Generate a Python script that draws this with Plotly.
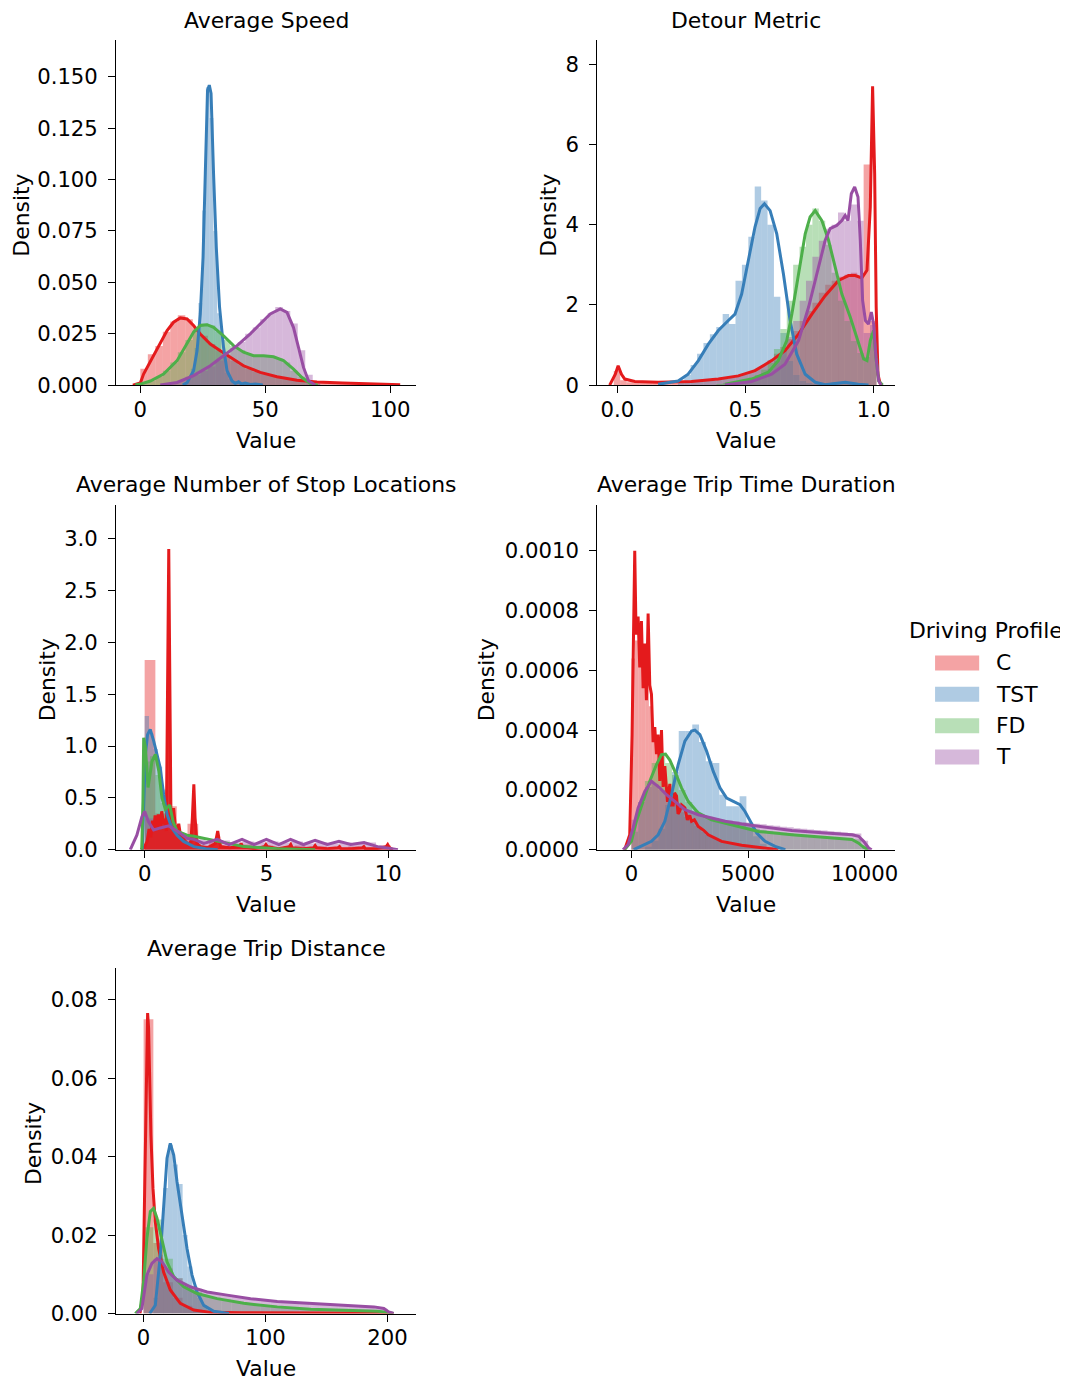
import plotly.graph_objects as go

# ---------------- categories / labels ----------------
PROFILES = ["C", "TST", "FD", "T"]
TITLES = ["Average Speed", "Detour Metric", "Average Number of Stop Locations",
          "Average Trip Time Duration", "Average Trip Distance"]
LEGEND_TITLE = "Driving Profile"
X_LABEL = "Value"
Y_LABEL = "Density"

# ---------------- tick labels ----------------
SPEED_XTICKS = [0, 50, 100]
SPEED_YTICKS = [0, 0.025, 0.05, 0.075, 0.1, 0.125, 0.15]
DETOUR_XTICKS = [0.0, 0.5, 1.0]
DETOUR_YTICKS = [0, 2, 4, 6, 8]
STOPS_XTICKS = [0, 5, 10]
STOPS_YTICKS = [0.0, 0.5, 1.0, 1.5, 2.0, 2.5, 3.0]
TIME_XTICKS = [0, 5000, 10000]
TIME_YTICKS = [0.0, 0.0002, 0.0004, 0.0006, 0.0008, 0.0010]
DIST_XTICKS = [0, 100, 200]
DIST_YTICKS = [0.0, 0.02, 0.04, 0.06, 0.08]

# ================= Average Speed =================
SPEED_C_KDE_X = [-3, 0, 1.3, 3.3, 5.3, 8, 10.7, 13.3, 16, 18.7, 21.3, 24, 28, 32, 36, 41.3, 48, 54.7, 62.7, 70.7, 81, 94.7, 104]
SPEED_C_KDE_Y = [0, 0.001, 0.0054, 0.010, 0.0143, 0.0208, 0.0265, 0.0306, 0.0327, 0.0322, 0.029, 0.0249, 0.020, 0.0167, 0.0135, 0.0094, 0.0062, 0.0041, 0.0024, 0.0015, 0.001, 0.0005, 0.0002]
SPEED_TST_KDE_X = [17, 18.7, 21.3, 22.7, 24, 25.1, 26, 26.9, 27.6, 28.3, 29.3, 30.4, 31.7, 33.3, 34.7, 36.7, 38, 39.3, 40.5, 42, 44, 46, 49]
SPEED_TST_KDE_Y = [0, 0.0012, 0.007, 0.0167, 0.0346, 0.0622, 0.103, 0.1435, 0.146, 0.142, 0.103, 0.067, 0.0379, 0.0184, 0.007, 0.002, 0.0008, 0.0016, 0.0005, 0.001, 0.0003, 0.0005, 0]
SPEED_FD_KDE_X = [-2, 0, 4, 9.3, 14.7, 18.7, 21.3, 24, 26.7, 29.3, 33.3, 37.3, 41.3, 45.3, 49.3, 53.3, 57.3, 61.3, 64.7, 68, 71]
SPEED_FD_KDE_Y = [0, 0.0005, 0.002, 0.0054, 0.0119, 0.020, 0.0257, 0.029, 0.0294, 0.0281, 0.024, 0.0192, 0.016, 0.0143, 0.0143, 0.0138, 0.0119, 0.0078, 0.0037, 0.0008, 0]
SPEED_T_KDE_X = [8, 14.7, 21.3, 28, 33.3, 38.7, 44, 48, 52, 56, 58.7, 61.3, 63.3, 65.3, 67.3, 70]
SPEED_T_KDE_Y = [0, 0.0013, 0.0046, 0.0094, 0.0143, 0.0192, 0.0249, 0.0297, 0.0346, 0.0371, 0.0354, 0.028, 0.0184, 0.0086, 0.0021, 0]

SPEED_C_BINS = (0, 3)
SPEED_C_HIST = [0.008, 0.015, 0.019, 0.026, 0.031, 0.034, 0.032, 0.028, 0.024, 0.020, 0.017, 0.014, 0.012, 0.010, 0.008, 0.0065, 0.0055, 0.0045, 0.0035, 0.003, 0.0024, 0.0019, 0.0015, 0.0012, 0.001, 0.0008, 0.0007, 0.0006, 0.0005, 0.0004, 0.0004, 0.0003, 0.0003, 0.0002, 0.0001]
SPEED_TST_BINS = (17.25, 1.5)
SPEED_TST_HIST = [0.001, 0.003, 0.008, 0.018, 0.04, 0.085, 0.145, 0.13, 0.075, 0.035, 0.015, 0.006, 0.003, 0.002, 0.0015, 0.001, 0.0005, 0.0003]
SPEED_FD_BINS = (0, 3)
SPEED_FD_HIST = [0.001, 0.002, 0.004, 0.007, 0.011, 0.016, 0.022, 0.027, 0.030, 0.029, 0.026, 0.022, 0.019, 0.017, 0.015, 0.014, 0.014, 0.014, 0.013, 0.011, 0.007, 0.004, 0.0015, 0.0005]
SPEED_T_BINS = (9, 3)
SPEED_T_HIST = [0.001, 0.0015, 0.002, 0.004, 0.005, 0.007, 0.009, 0.012, 0.015, 0.018, 0.021, 0.025, 0.028, 0.032, 0.035, 0.038, 0.036, 0.030, 0.017, 0.005, 0.001]

# ================= Detour Metric =================
DETOUR_C_KDE_X = [-0.03, -0.008, 0.003, 0.016, 0.029, 0.068, 0.159, 0.289, 0.394, 0.472, 0.537, 0.602, 0.654, 0.707, 0.759, 0.811, 0.863, 0.902, 0.928, 0.954, 0.974, 0.987, 0.996, 1.004, 1.01, 1.017, 1.026]
DETOUR_C_KDE_Y = [0, 0.27, 0.48, 0.27, 0.15, 0.09, 0.07, 0.09, 0.15, 0.23, 0.36, 0.61, 0.86, 1.27, 1.77, 2.23, 2.61, 2.73, 2.73, 2.67, 2.86, 4.44, 7.45, 5.27, 1.94, 0.27, 0.02]
DETOUR_TST_KDE_X = [0.159, 0.237, 0.276, 0.316, 0.355, 0.394, 0.433, 0.459, 0.485, 0.511, 0.537, 0.557, 0.574, 0.596, 0.622, 0.648, 0.674, 0.70, 0.733, 0.772, 0.811, 0.85, 0.889, 0.94, 0.98]
DETOUR_TST_KDE_Y = [0.02, 0.1, 0.27, 0.61, 1.02, 1.36, 1.61, 1.77, 2.27, 3.11, 3.94, 4.40, 4.52, 4.35, 3.77, 2.77, 1.61, 0.77, 0.27, 0.07, 0.01, 0.04, 0.07, 0.02, 0]
DETOUR_FD_KDE_X = [0.42, 0.524, 0.589, 0.628, 0.661, 0.681, 0.707, 0.733, 0.752, 0.772, 0.798, 0.824, 0.85, 0.876, 0.909, 0.941, 0.961, 0.974, 0.987, 1.0, 1.009, 1.02, 1.035]
DETOUR_FD_KDE_Y = [0.02, 0.15, 0.32, 0.61, 1.11, 1.77, 2.77, 3.77, 4.19, 4.35, 4.10, 3.61, 2.94, 2.27, 1.69, 1.02, 0.65, 0.61, 1.11, 1.36, 0.69, 0.1, 0]
DETOUR_T_KDE_X = [0.42, 0.524, 0.602, 0.654, 0.707, 0.746, 0.785, 0.811, 0.83, 0.856, 0.876, 0.889, 0.9, 0.913, 0.926, 0.939, 0.948, 0.957, 0.968, 0.98, 0.991, 1.0, 1.009, 1.02, 1.03]
DETOUR_T_KDE_Y = [0.0, 0.09, 0.27, 0.52, 1.11, 1.94, 2.94, 3.61, 3.90, 3.98, 4.10, 4.23, 4.10, 4.77, 4.94, 4.69, 3.61, 2.11, 1.61, 1.52, 1.82, 1.52, 0.69, 0.1, 0]

DETOUR_C_BINS = (-0.014, 0.025)
DETOUR_C_HIST = [0.35, 0.12, 0.07, 0.06, 0.05, 0.06, 0.05, 0.06, 0.07, 0.06, 0.07, 0.08, 0.08, 0.09, 0.1, 0.11, 0.13, 0.15, 0.18, 0.22, 0.27, 0.33, 0.4, 0.5, 0.62, 0.78, 0.95, 1.15, 1.35, 1.6, 1.85, 2.05, 2.3, 2.5, 2.6, 2.7, 2.75, 2.8, 2.7, 5.5, 1.6]
DETOUR_TST_BINS = (0.236, 0.025)
DETOUR_TST_HIST = [0.1, 0.25, 0.5, 0.78, 1.05, 1.27, 1.45, 1.77, 1.52, 2.6, 3.0, 3.7, 4.95, 4.6, 4.0, 2.2, 1.3, 0.6, 0.25, 0.1, 0.05, 0.03, 0.03, 0.05, 0.08, 0.05, 0.03]
DETOUR_FD_BINS = (0.386, 0.025)
DETOUR_FD_HIST = [0.03, 0.05, 0.07, 0.1, 0.13, 0.18, 0.25, 0.38, 0.55, 0.9, 1.4, 2.1, 3.0, 3.45, 4.0, 4.4, 4.1, 3.5, 2.8, 2.1, 1.6, 1.1, 0.8, 0.7, 1.3]
DETOUR_T_BINS = (0.461, 0.025)
DETOUR_T_HIST = [0.05, 0.1, 0.15, 0.2, 0.3, 0.4, 0.6, 0.85, 1.2, 1.6, 2.1, 2.6, 3.2, 3.6, 3.9, 4.0, 4.3, 4.1, 4.5, 4.1, 1.3, 1.5]

# ================= Average Number of Stop Locations =================
STOPS_C_KDE_X = [-0.15, 0.0, 0.1, 0.18, 0.25, 0.32, 0.37, 0.43, 0.5, 0.56, 0.64, 0.7, 0.78, 0.84, 0.89, 0.95, 0.99, 1.03, 1.08, 1.13, 1.19, 1.26, 1.33, 1.4, 1.47, 1.55, 1.67, 1.8, 1.9, 1.96, 2.02, 2.07, 2.15, 2.3, 2.6, 2.9, 2.95, 3.0, 3.05, 3.12, 3.5, 3.9, 3.96, 4.02, 4.5, 4.92, 4.98, 5.04, 5.5, 5.94, 6.0, 6.06, 6.5, 6.94, 7.0, 7.06, 7.5, 7.94, 8.0, 8.06, 8.5, 8.94, 9.0, 9.06, 9.5, 9.92, 9.98, 10.05, 10.2]
STOPS_C_KDE_Y = [0, 0.03, 0.08, 0.2, 0.12, 0.28, 0.18, 0.33, 0.2, 0.34, 0.22, 0.37, 0.25, 0.3, 0.18, 1.75, 2.9, 1.75, 0.31, 0.25, 0.4, 0.22, 0.18, 0.25, 0.14, 0.12, 0.08, 0.05, 0.08, 0.31, 0.63, 0.31, 0.06, 0.03, 0.02, 0.06, 0.11, 0.18, 0.11, 0.03, 0.02, 0.03, 0.06, 0.03, 0.01, 0.03, 0.05, 0.03, 0.01, 0.03, 0.05, 0.02, 0.01, 0.02, 0.04, 0.02, 0.01, 0.02, 0.03, 0.01, 0.01, 0.02, 0.03, 0.01, 0.01, 0.03, 0.05, 0.02, 0]
STOPS_TST_KDE_X = [-0.1, -0.04, 0.03, 0.12, 0.23, 0.37, 0.51, 0.64, 0.78, 0.92, 1.12, 1.33, 1.6, 2.02, 2.5, 3.0]
STOPS_TST_KDE_Y = [0, 0.47, 0.92, 1.11, 1.16, 1.05, 0.92, 0.79, 0.53, 0.34, 0.21, 0.14, 0.08, 0.03, 0.01, 0]
STOPS_FD_KDE_X = [-0.12, -0.07, -0.04, 0.03, 0.14, 0.3, 0.44, 0.58, 0.71, 0.85, 1.03, 1.17, 1.33, 1.74, 2.02, 2.98, 4.07, 5.45, 7]
STOPS_FD_KDE_Y = [0, 0.47, 1.08, 0.99, 0.6, 0.85, 0.92, 0.76, 0.5, 0.39, 0.43, 0.27, 0.18, 0.14, 0.13, 0.08, 0.03, 0.01, 0]
STOPS_T_KDE_X = [-0.59, -0.32, -0.11, 0.0, 0.16, 0.37, 0.64, 0.99, 1.33, 1.74, 2.02, 2.43, 2.98, 3.46, 4.0, 4.49, 5.0, 5.51, 5.99, 6.52, 7.0, 7.5, 7.98, 8.46, 9.01, 9.56, 9.97, 10.4]
STOPS_T_KDE_Y = [0, 0.14, 0.32, 0.37, 0.27, 0.19, 0.21, 0.23, 0.18, 0.11, 0.10, 0.06, 0.10, 0.05, 0.10, 0.05, 0.10, 0.05, 0.10, 0.05, 0.09, 0.05, 0.08, 0.05, 0.07, 0.03, 0.016, 0]

STOPS_C_BINS = (0, 0.44)
STOPS_C_HIST = [1.83, 0.35, 0.42, 0.15, 0.25, 0.04, 0.1, 0.03, 0.02, 0.05, 0.02, 0.04, 0.02, 0.02, 0.04, 0.02, 0.03, 0.02, 0.02, 0.03, 0.02, 0.02, 0.04]
STOPS_TST_BINS = (0, 0.18)
STOPS_TST_HIST = [1.29, 1.12, 0.97, 0.8, 0.58, 0.36, 0.22, 0.15, 0.1, 0.06, 0.04, 0.03, 0.02]
STOPS_FD_BINS = (0, 0.22)
STOPS_FD_HIST = [0.85, 0.9, 0.72, 0.45, 0.38, 0.22, 0.14, 0.1, 0.08, 0.06, 0.05, 0.03, 0.02, 0.02]
STOPS_T_BINS = (0, 0.5)
STOPS_T_HIST = [0.3, 0.2, 0.17, 0.12, 0.1, 0.08, 0.09, 0.07, 0.08, 0.07, 0.08, 0.07, 0.08, 0.06, 0.07, 0.06, 0.07, 0.06, 0.07, 0.04]

# ================= Average Trip Time Duration =================
TIME_C_KDE_X = [-290, -72, 29, 86, 143, 200, 287, 358, 430, 502, 573, 645, 717, 788, 860, 931, 1003, 1075, 1146, 1218, 1290, 1361, 1433, 1548, 1600, 1648, 1700, 1791, 1850, 1935, 2000, 2078, 2150, 2293, 2400, 2500, 2579, 2700, 2866, 3000, 3100, 3296, 3869, 4729, 5732, 6300]
TIME_C_KDE_Y = [0, 0.00005, 0.000385, 0.00064, 0.0010, 0.00072, 0.00078, 0.00061, 0.000765, 0.00054, 0.00069, 0.00050, 0.00079, 0.00055, 0.00052, 0.00036, 0.00041, 0.00032, 0.000385, 0.00023, 0.00040, 0.00021, 0.00028, 0.00016, 0.00020, 0.00022, 0.00015, 0.00015, 0.00019, 0.00018, 0.00012, 0.00013, 0.00015, 0.00014, 0.00010, 0.000115, 0.000095, 0.00010, 0.000078, 0.00007, 0.000065, 0.00005, 0.000028, 0.000015, 0.000006, 0]
TIME_TST_KDE_X = [100, 430, 860, 1146, 1433, 1720, 2006, 2293, 2579, 2723, 2938, 3224, 3511, 3798, 4084, 4371, 4657, 4872, 5087, 5374, 5732, 6162, 6600]
TIME_TST_KDE_Y = [0, 0.000011, 0.000028, 0.00005, 0.000095, 0.000184, 0.000285, 0.000363, 0.000397, 0.0004, 0.000385, 0.00033, 0.000262, 0.000207, 0.000173, 0.000162, 0.000151, 0.000128, 0.000095, 0.000056, 0.000028, 0.000011, 0]
TIME_FD_KDE_X = [-290, 0, 215, 502, 788, 1075, 1290, 1462, 1648, 1863, 2150, 2436, 2866, 3439, 4013, 4729, 5446, 6879, 8312, 9458, 9744, 9959, 10174]
TIME_FD_KDE_Y = [0, 0.000028, 0.000095, 0.000162, 0.000229, 0.000285, 0.000318, 0.00032, 0.0003, 0.000262, 0.000207, 0.000162, 0.000123, 0.0001, 0.000089, 0.000073, 0.000061, 0.00005, 0.000041, 0.000034, 0.000022, 0.000008, 0]
TIME_T_KDE_X = [-360, -143, 72, 287, 573, 860, 1003, 1218, 1505, 1863, 2293, 2866, 3439, 4013, 4729, 5446, 6879, 8312, 9458, 9744, 9959, 10174, 10300]
TIME_T_KDE_Y = [0, 0.000017, 0.000073, 0.00014, 0.000195, 0.000229, 0.00022, 0.000207, 0.000184, 0.000162, 0.000134, 0.000117, 0.000106, 0.000095, 0.000086, 0.000078, 0.000064, 0.000056, 0.00005, 0.000045, 0.000028, 0.000006, 0]

TIME_C_BINS = (0, 150)
TIME_C_HIST = [0.00064, 0.0007, 0.00065, 0.0006, 0.00058, 0.00048, 0.00038, 0.00033, 0.00028, 0.00025, 0.00021, 0.00018, 0.00016, 0.00014, 0.000125, 0.00011, 0.0001, 0.00009, 0.00008, 0.00007, 0.00006, 0.00005, 0.000045, 0.00004, 0.000035, 0.00003, 0.000026, 0.000022, 0.00002, 0.000017, 0.000015, 0.000012, 0.00001, 0.000008, 0.000007, 0.000006, 0.000005, 0.000004]
TIME_TST_BINS = (580, 290)
TIME_TST_HIST = [0.00001, 0.00003, 0.00007, 0.00015, 0.00026, 0.000397, 0.000397, 0.000419, 0.00036, 0.000296, 0.00029, 0.000184, 0.000145, 0.000145, 0.000179, 0.00009, 0.000045, 0.00002, 0.000008]
TIME_FD_BINS = (0, 290)
TIME_FD_HIST = [0.00006, 0.00016, 0.00023, 0.00029, 0.00032, 0.00029, 0.00025, 0.0002, 0.00016, 0.00013, 0.000115, 0.000105, 0.0001, 0.000095, 0.00009, 0.000085, 0.00008, 0.000075, 0.00007, 0.000065, 0.000062, 0.00006, 0.000057, 0.000055, 0.000052, 0.00005, 0.000048, 0.000046, 0.000044, 0.000042, 0.00004, 0.000038, 0.000036, 0.000035, 0.000015]
TIME_T_BINS = (0, 290)
TIME_T_HIST = [0.0001, 0.00016, 0.00021, 0.00022, 0.0002, 0.00018, 0.00016, 0.00014, 0.00013, 0.00012, 0.000115, 0.00011, 0.000105, 0.0001, 0.000098, 0.000095, 0.000092, 0.00009, 0.000087, 0.000085, 0.000082, 0.00008, 0.000077, 0.000075, 0.000072, 0.00007, 0.000068, 0.000066, 0.000064, 0.000062, 0.00006, 0.000058, 0.000056, 0.000054, 0.00003]

# ================= Average Trip Distance =================
DIST_C_KDE_X = [-3, -0.5, 0.8, 1.9, 2.7, 3.3, 4.1, 4.9, 6.0, 7.7, 9.6, 12.3, 16.4, 21.9, 30.1, 41.1, 54.8, 80, 120, 160, 200, 205]
DIST_C_KDE_Y = [0, 0.0047, 0.030, 0.0557, 0.0728, 0.0766, 0.0728, 0.060, 0.0455, 0.0319, 0.0234, 0.0166, 0.0106, 0.006, 0.0026, 0.0009, 0.0003, 0.0002, 0.0002, 0.0001, 0.0001, 0]
DIST_TST_KDE_X = [5, 9.6, 13.7, 16.4, 19.2, 21.9, 24.7, 27.4, 31.5, 35.6, 39.7, 43.8, 49.3, 57.5, 70]
DIST_TST_KDE_Y = [0, 0.0021, 0.0149, 0.0285, 0.0396, 0.0434, 0.0404, 0.0336, 0.0251, 0.0166, 0.0098, 0.0055, 0.0021, 0.0006, 0]
DIST_FD_KDE_X = [-6.8, -2.7, 0, 2.7, 5.5, 8.2, 11, 15.1, 19.2, 24.7, 32.9, 43.8, 60.3, 82.2, 109.6, 137, 164, 192, 200, 205]
DIST_FD_KDE_Y = [0, 0.0013, 0.0081, 0.0191, 0.026, 0.0268, 0.0243, 0.0183, 0.0132, 0.0094, 0.0068, 0.0051, 0.0038, 0.0026, 0.0017, 0.0011, 0.0008, 0.0006, 0.0003, 0]
DIST_T_KDE_X = [-5.5, -1.4, 2.7, 6.8, 11, 15.1, 20.5, 27.4, 38.4, 52.1, 68.5, 87.7, 109.6, 137, 164, 189, 197, 201, 205]
DIST_T_KDE_Y = [0, 0.0013, 0.0098, 0.0128, 0.014, 0.0132, 0.0106, 0.0085, 0.0068, 0.0055, 0.0047, 0.0038, 0.0031, 0.0026, 0.0021, 0.0017, 0.0013, 0.0004, 0]

DIST_C_BINS = (0, 8)
DIST_C_HIST = [0.075, 0.018, 0.008, 0.004, 0.002, 0.001, 0.0006, 0.0004, 0.0003, 0.0003, 0.0002, 0.0002, 0.0002, 0.0002, 0.0001, 0.0001, 0.0001, 0.0001, 0.0001, 0.0001, 0.0001, 0.0001, 0.0001, 0.0001, 0.0001]
DIST_TST_BINS = (8, 4)
DIST_TST_HIST = [0.004, 0.015, 0.032, 0.043, 0.038, 0.033, 0.02, 0.012, 0.007, 0.004, 0.002, 0.001, 0.0005]
DIST_FD_BINS = (0, 8)
DIST_FD_HIST = [0.022, 0.024, 0.014, 0.009, 0.007, 0.0055, 0.0045, 0.004, 0.0035, 0.003, 0.0027, 0.0024, 0.0021, 0.0019, 0.0017, 0.0015, 0.0013, 0.0012, 0.0011, 0.001, 0.0009, 0.0008, 0.0007, 0.0007, 0.0006]
DIST_T_BINS = (0, 8)
DIST_T_HIST = [0.01, 0.014, 0.0115, 0.009, 0.0072, 0.0063, 0.0056, 0.005, 0.0047, 0.0043, 0.004, 0.0037, 0.0033, 0.0031, 0.0029, 0.0027, 0.0026, 0.0024, 0.0023, 0.0021, 0.002, 0.0019, 0.0018, 0.0017, 0.0012]

# ---------------- assemble ----------------
SERIES = {
    "speed": {"C": (SPEED_C_KDE_X, SPEED_C_KDE_Y, SPEED_C_BINS, SPEED_C_HIST),
              "TST": (SPEED_TST_KDE_X, SPEED_TST_KDE_Y, SPEED_TST_BINS, SPEED_TST_HIST),
              "FD": (SPEED_FD_KDE_X, SPEED_FD_KDE_Y, SPEED_FD_BINS, SPEED_FD_HIST),
              "T": (SPEED_T_KDE_X, SPEED_T_KDE_Y, SPEED_T_BINS, SPEED_T_HIST)},
    "detour": {"C": (DETOUR_C_KDE_X, DETOUR_C_KDE_Y, DETOUR_C_BINS, DETOUR_C_HIST),
               "TST": (DETOUR_TST_KDE_X, DETOUR_TST_KDE_Y, DETOUR_TST_BINS, DETOUR_TST_HIST),
               "FD": (DETOUR_FD_KDE_X, DETOUR_FD_KDE_Y, DETOUR_FD_BINS, DETOUR_FD_HIST),
               "T": (DETOUR_T_KDE_X, DETOUR_T_KDE_Y, DETOUR_T_BINS, DETOUR_T_HIST)},
    "stops": {"C": (STOPS_C_KDE_X, STOPS_C_KDE_Y, STOPS_C_BINS, STOPS_C_HIST),
              "TST": (STOPS_TST_KDE_X, STOPS_TST_KDE_Y, STOPS_TST_BINS, STOPS_TST_HIST),
              "FD": (STOPS_FD_KDE_X, STOPS_FD_KDE_Y, STOPS_FD_BINS, STOPS_FD_HIST),
              "T": (STOPS_T_KDE_X, STOPS_T_KDE_Y, STOPS_T_BINS, STOPS_T_HIST)},
    "time": {"C": (TIME_C_KDE_X, TIME_C_KDE_Y, TIME_C_BINS, TIME_C_HIST),
             "TST": (TIME_TST_KDE_X, TIME_TST_KDE_Y, TIME_TST_BINS, TIME_TST_HIST),
             "FD": (TIME_FD_KDE_X, TIME_FD_KDE_Y, TIME_FD_BINS, TIME_FD_HIST),
             "T": (TIME_T_KDE_X, TIME_T_KDE_Y, TIME_T_BINS, TIME_T_HIST)},
    "dist": {"C": (DIST_C_KDE_X, DIST_C_KDE_Y, DIST_C_BINS, DIST_C_HIST),
             "TST": (DIST_TST_KDE_X, DIST_TST_KDE_Y, DIST_TST_BINS, DIST_TST_HIST),
             "FD": (DIST_FD_KDE_X, DIST_FD_KDE_Y, DIST_FD_BINS, DIST_FD_HIST),
             "T": (DIST_T_KDE_X, DIST_T_KDE_Y, DIST_T_BINS, DIST_T_HIST)},
}

COLORS = {"C": (228, 26, 28), "TST": (55, 126, 184), "FD": (77, 175, 74), "T": (152, 78, 163)}
OFF = 8                         # page body margin in the browser
SX, SY = 0.995, 0.990           # observed page->picture scale
W = int(round(1068 / SX)) - OFF
H = int(round(1380 / SY)) - OFF
FONT = "DejaVu Sans"
FS = 21.9        # titles / labels
FS_TICK = 21.2   # tick labels

# panel geometry in target pixels: (left, right, top, bottom), axis ranges, tick formats, ylabel x
PANELS = [
    ("speed", (116, 415, 40, 384.5), (-9.63, 110.3), (0, 0.1679), SPEED_XTICKS, SPEED_YTICKS, "d", ".3f", 22),
    ("detour", (596, 893.3, 40, 384.5), (-0.0782, 1.0845), (0, 8.6), DETOUR_XTICKS, DETOUR_YTICKS, ".1f", "d", 547),
    ("stops", (116, 415, 504, 848.5), (-1.165, 11.14), (0, 3.326), STOPS_XTICKS, STOPS_YTICKS, "d", ".1f", 47),
    ("time", (596, 893.3, 504, 848.5), (-1461, 11315), (0, 0.001154), TIME_XTICKS, TIME_YTICKS, "d", ".4f", 485),
    ("dist", (116, 415, 967, 1311.7), (-22.4, 223.3), (0, 0.08799), DIST_XTICKS, DIST_YTICKS, "d", ".2f", 34),
]


def rgba(c, a):
    return "rgba(%d,%d,%d,%s)" % (c[0], c[1], c[2], a)


def px_x(p):
    return (p / SX - OFF) / W


def px_y(p):
    return 1 - (p / SY - OFF) / H


fig = go.Figure()
annotations = []
layout_axes = {}

for i, (key, (l, r, t, b), xr, yr, xt, yt, xf, yf, dens_x) in enumerate(PANELS):
    n = "" if i == 0 else str(i + 1)
    xa, ya = "x" + n, "y" + n
    for prof in PROFILES:
        kx, ky, (b0, bw), hh = SERIES[key][prof]
        centers = [b0 + bw * (j + 0.5) for j in range(len(hh))]
        fig.add_trace(go.Bar(x=centers, y=hh, width=bw, xaxis=xa, yaxis=ya,
                             marker=dict(color=rgba(COLORS[prof], 0.4), line=dict(width=0)),
                             showlegend=False, hoverinfo="skip"))
    for prof in PROFILES:
        kx, ky, _, _ = SERIES[key][prof]
        extra = {}
        if key == "stops" and prof == "C":
            extra = dict(fill="tozeroy", fillcolor=rgba(COLORS[prof], 0.9))
        fig.add_trace(go.Scatter(x=kx, y=ky, mode="lines", xaxis=xa, yaxis=ya,
                                 line=dict(color=rgba(COLORS[prof], 1), width=3),
                                 showlegend=False, hoverinfo="skip", **extra))
    common = dict(showline=True, linecolor="black", linewidth=1.4, ticks="outside",
                  ticklen=7, tickwidth=1.4, tickcolor="black", showgrid=False,
                  zeroline=False, tickfont=dict(family=FONT, size=FS_TICK, color="black"))
    layout_axes["xaxis" + n] = dict(domain=[px_x(l), px_x(r)], range=list(xr), tickvals=xt,
                                    tickformat=xf, anchor=ya, ticklabelstandoff=-2, **common)
    layout_axes["yaxis" + n] = dict(domain=[px_y(b), px_y(t)], range=list(yr), tickvals=yt,
                                    tickformat=yf, anchor=xa, ticklabelstandoff=6, **common)
    cx = (l + r) / 2
    annotations.append(dict(text=TITLES[i], x=px_x(cx), y=px_y(t - 20), xref="paper", yref="paper",
                            xanchor="center", yanchor="middle", showarrow=False,
                            font=dict(family=FONT, size=FS, color="black")))
    annotations.append(dict(text=X_LABEL, x=px_x(cx), y=px_y(b + 55), xref="paper", yref="paper",
                            xanchor="center", yanchor="middle", showarrow=False,
                            font=dict(family=FONT, size=FS, color="black")))
    annotations.append(dict(text=Y_LABEL, x=px_x(dens_x), y=px_y((t + b) / 2 + 3), xref="paper", yref="paper",
                            xanchor="center", yanchor="middle", textangle=-90, showarrow=False,
                            font=dict(family=FONT, size=FS, color="black")))

# legend (manual, matching seaborn FacetGrid legend)
shapes = []
annotations.append(dict(text=LEGEND_TITLE, x=px_x(984), y=px_y(630), xref="paper", yref="paper",
                        xanchor="center", yanchor="middle", showarrow=False,
                        font=dict(family=FONT, size=FS, color="black")))
for k, prof in enumerate(PROFILES):
    yc = 662 + 31.3 * k
    shapes.append(dict(type="rect", xref="paper", yref="paper",
                       x0=px_x(933), x1=px_x(977), y0=px_y(yc - 7.5), y1=px_y(yc + 7.5),
                       fillcolor=rgba(COLORS[prof], 0.4), line=dict(width=0)))
    annotations.append(dict(text=prof, x=px_x(992), y=px_y(yc), xref="paper", yref="paper",
                            xanchor="left", yanchor="middle", showarrow=False,
                            font=dict(family=FONT, size=FS, color="black")))

fig.update_layout(width=W, height=H, margin=dict(l=0, r=0, t=0, b=0),
                  paper_bgcolor="white", plot_bgcolor="white", barmode="overlay",
                  showlegend=False, annotations=annotations, shapes=shapes,
                  font=dict(family=FONT, size=FS, color="black"), **layout_axes)

fig.write_html("out.html")
